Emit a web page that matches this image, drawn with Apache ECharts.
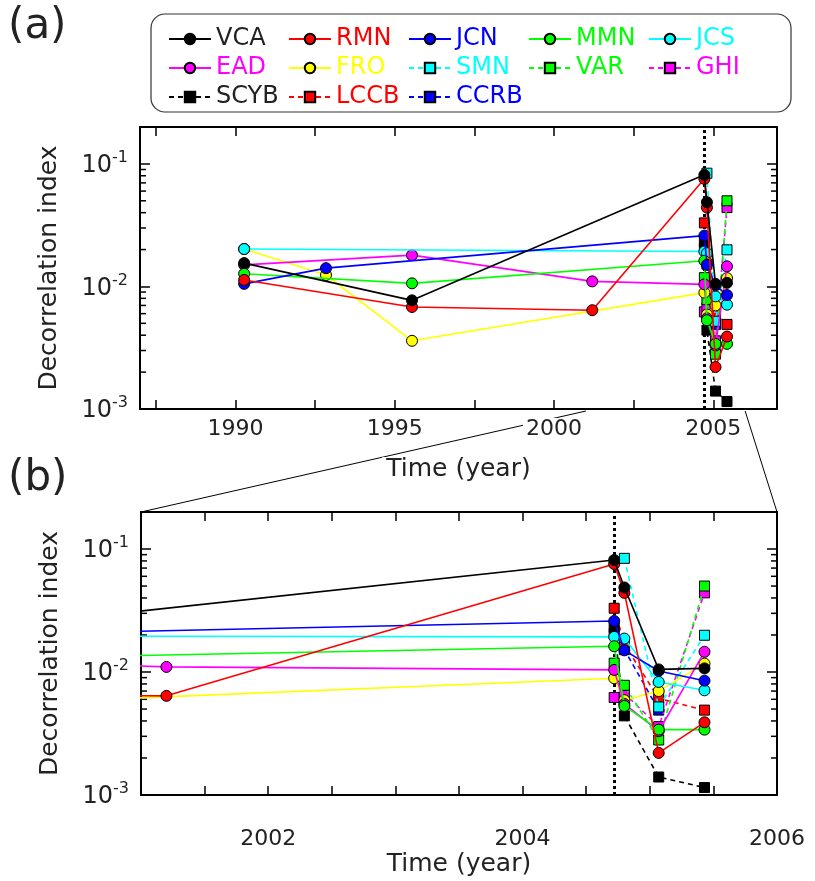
<!DOCTYPE html>
<html>
<head>
<meta charset="utf-8">
<script src="https://cdn.jsdelivr.net/npm/echarts@6/dist/echarts.min.js"></script>
<style>
  html, body { margin: 0; padding: 0; background: #fff; }
  #chart { width: 815px; height: 881px; }
</style>
</head>
<body>
<div id="chart"></div>
<script>
// ---- data: [time (year), decorrelation index] ----
const VCA  = [[1990.27, 0.0155], [1995.54, 0.0077], [2004.72, 0.0814], [2004.80, 0.0487], [2005.07, 0.0105], [2005.43, 0.0107]];
const RMN  = [[1990.27, 0.0113], [1995.54, 0.0068], [2001.20, 0.0064], [2004.72, 0.0755], [2004.80, 0.0440], [2005.07, 0.0022], [2005.43, 0.0039]];
const JCN  = [[1990.27, 0.0105], [1992.84, 0.0141], [2004.72, 0.0260], [2004.80, 0.0150], [2005.07, 0.0102], [2005.43, 0.0085]];
const MMN  = [[1990.27, 0.0127], [1995.54, 0.0106], [2004.72, 0.0162], [2004.80, 0.0053], [2005.07, 0.0034], [2005.43, 0.0034]];
const JCS  = [[1990.27, 0.0202], [2004.72, 0.0193], [2004.80, 0.0187], [2005.07, 0.0083], [2005.43, 0.0071]];
const EAD  = [[1990.27, 0.0150], [1995.54, 0.0180], [2001.20, 0.0110], [2004.72, 0.0104], [2004.80, 0.0055], [2005.07, 0.0033], [2005.43, 0.0146]];
const FRO  = [[1990.27, 0.0202], [1992.84, 0.0124], [1995.54, 0.0036], [2004.72, 0.0089], [2004.80, 0.0059], [2005.07, 0.0070], [2005.43, 0.0117]];
const SMN  = [[2004.80, 0.0840], [2005.07, 0.0052], [2005.43, 0.0199]];
const VAR  = [[2004.72, 0.0118], [2004.80, 0.0078], [2005.07, 0.0028], [2005.43, 0.0500]];
const GHI  = [[2004.72, 0.0062], [2004.80, 0.0067], [2005.07, 0.0036], [2005.43, 0.0440]];
const SCYB = [[2004.72, 0.0230], [2004.80, 0.0044], [2005.07, 0.0014], [2005.43, 0.00115]];
const LCCB = [[2004.72, 0.0330], [2004.80, 0.0168], [2005.07, 0.0061], [2005.43, 0.0049]];
const CCRB = [[2004.72, 0.0205], [2004.80, 0.0152], [2005.07, 0.0049]];

// event marker (vertical dotted line)
const EVENT_YEAR = 2004.72;

// axis ranges and ticks
const Y_MIN = 0.001, Y_MAX = 0.2;
const Y_MAJOR = [0.001, 0.01, 0.1];
const Y_MINOR = [0.002, 0.003, 0.004, 0.005, 0.006, 0.007, 0.008, 0.009,
                 0.02, 0.03, 0.04, 0.05, 0.06, 0.07, 0.08, 0.09, 0.2];
const A_RANGE = [1987, 2007];
const A_TICKS = [1987.5, 1990, 1992.5, 1995, 1997.5, 2000, 2002.5, 2005];
const A_LABELS = [1990, 1995, 2000, 2005];
const B_RANGE = [2001, 2006];
const B_TICKS = [2001.5, 2002, 2002.5, 2003, 2003.5, 2004, 2004.5, 2005, 2005.5];
const B_LABELS = [2002, 2004, 2006];

// series styling
const SERIES = [
  { name: 'VCA',  data: VCA,  color: '#000000', text: '#222222', symbol: 'circle', dashed: false },
  { name: 'RMN',  data: RMN,  color: '#ff0000', text: '#ff0000', symbol: 'circle', dashed: false },
  { name: 'JCN',  data: JCN,  color: '#0000ff', text: '#0000ff', symbol: 'circle', dashed: false },
  { name: 'MMN',  data: MMN,  color: '#00ff00', text: '#00ff00', symbol: 'circle', dashed: false },
  { name: 'JCS',  data: JCS,  color: '#00ffff', text: '#00ffff', symbol: 'circle', dashed: false },
  { name: 'EAD',  data: EAD,  color: '#ff00ff', text: '#ff00ff', symbol: 'circle', dashed: false },
  { name: 'FRO',  data: FRO,  color: '#ffff00', text: '#ffff00', symbol: 'circle', dashed: false },
  { name: 'SMN',  data: SMN,  color: '#00ffff', text: '#00ffff', symbol: 'rect',   dashed: true },
  { name: 'VAR',  data: VAR,  color: '#00ff00', text: '#00ff00', symbol: 'rect',   dashed: true },
  { name: 'GHI',  data: GHI,  color: '#ff00ff', text: '#ff00ff', symbol: 'rect',   dashed: true },
  { name: 'SCYB', data: SCYB, color: '#000000', text: '#222222', symbol: 'rect',   dashed: true },
  { name: 'LCCB', data: LCCB, color: '#ff0000', text: '#ff0000', symbol: 'rect',   dashed: true },
  { name: 'CCRB', data: CCRB, color: '#0000ff', text: '#0000ff', symbol: 'rect',   dashed: true }
];
const LEGEND_COLUMNS = [['VCA', 'EAD', 'SCYB'], ['RMN', 'FRO', 'LCCB'], ['JCN', 'SMN', 'CCRB'], ['MMN', 'VAR'], ['JCS', 'GHI']];

const FONT = 'DejaVu Sans';
const INK = '#222222';

const chart = echarts.init(document.getElementById('chart'), null, { renderer: 'canvas' });

const grids = [
  { left: 140, top: 127, width: 637, height: 282 },
  { left: 141, top: 512, width: 636, height: 283 }
];

function xAxes(gridIndex, range, ticks, labels, labelMargin, nameGap, bg) {
  const tickStyle = { show: true, inside: true, length: 9, lineStyle: { color: '#000', width: 1.5 } };
  const line = { show: true, onZero: false, lineStyle: { color: '#000', width: 2 } };
  return [
    {
      type: 'value', gridIndex, position: 'bottom', min: range[0], max: range[1],
      axisLine: line, splitLine: { show: false },
      axisTick: Object.assign({ customValues: ticks }, tickStyle),
      axisLabel: {
        customValues: labels, margin: labelMargin, color: INK, fontFamily: FONT, fontSize: 22,
        backgroundColor: bg, padding: [0, 3], formatter: v => String(Math.round(v))
      },
      name: 'Time (year)', nameLocation: 'middle', nameGap,
      nameTextStyle: { color: INK, fontFamily: FONT, fontSize: 25, backgroundColor: bg, padding: [0, 4] }
    },
    {
      type: 'value', gridIndex, position: 'top', min: range[0], max: range[1],
      axisLine: line, splitLine: { show: false },
      axisTick: Object.assign({ customValues: ticks }, tickStyle),
      axisLabel: { show: false }
    }
  ];
}

function yAxes(gridIndex) {
  const tickStyle = { show: true, inside: true, length: 10, customValues: Y_MAJOR, lineStyle: { color: '#000', width: 1.5 } };
  const line = { show: true, onZero: false, lineStyle: { color: '#000', width: 2 } };
  return [
    {
      type: 'log', logBase: 10, gridIndex, position: 'left', min: Y_MIN, max: Y_MAX,
      axisLine: line, splitLine: { show: false }, axisTick: tickStyle,
      axisLabel: {
        customValues: Y_MAJOR, margin: 12, color: INK, fontFamily: FONT,
        formatter: v => '{b|10}{s|' + Math.round(Math.log10(v)) + '}',
        rich: {
          b: { fontFamily: FONT, fontSize: 24, color: INK, lineHeight: 28, verticalAlign: 'bottom' },
          s: { fontFamily: FONT, fontSize: 16, color: INK, lineHeight: 28, verticalAlign: 'top' }
        }
      },
      name: 'Decorrelation index', nameLocation: 'middle', nameRotate: 90, nameGap: 78,
      nameTextStyle: { color: INK, fontFamily: FONT, fontSize: 25 }
    },
    {
      type: 'log', logBase: 10, gridIndex, position: 'right', min: Y_MIN, max: Y_MAX,
      axisLine: line, splitLine: { show: false }, axisTick: tickStyle, axisLabel: { show: false }
    }
  ];
}

// minor log ticks drawn on both vertical frame edges
function minorTickSeries(gridIndex, xMin) {
  return {
    type: 'custom', name: 'minor-ticks', xAxisIndex: gridIndex * 2, yAxisIndex: gridIndex * 2,
    silent: true, clip: false, z: 5,
    data: Y_MINOR.map(v => [xMin, v]),
    renderItem: (params, api) => {
      const cs = params.coordSys;
      const y = api.coord([api.value(0), api.value(1)])[1];
      const st = { stroke: '#000', lineWidth: 1.5 };
      return {
        type: 'group',
        children: [
          { type: 'line', shape: { x1: cs.x, y1: y, x2: cs.x + 6, y2: y }, style: st },
          { type: 'line', shape: { x1: cs.x + cs.width - 6, y1: y, x2: cs.x + cs.width, y2: y }, style: st }
        ]
      };
    }
  };
}

function eventLineSeries(gridIndex) {
  return {
    type: 'line', name: 'event', xAxisIndex: gridIndex * 2, yAxisIndex: gridIndex * 2,
    data: [], silent: true, z: 2,
    markLine: {
      silent: true, symbol: 'none', label: { show: false },
      lineStyle: { color: '#000', type: [3, 3], width: 3 },
      emphasis: { disabled: true },
      data: [{ xAxis: EVENT_YEAR }]
    }
  };
}

const series = [];
[0, 1].forEach(g => {
  series.push(eventLineSeries(g));
  series.push(minorTickSeries(g, g === 0 ? A_RANGE[0] : B_RANGE[0]));
  SERIES.forEach((s, i) => {
    series.push({
      type: 'line', name: s.name, data: s.data,
      xAxisIndex: g * 2, yAxisIndex: g * 2,
      symbol: s.symbol, symbolSize: s.symbol === 'rect' ? 10 : 11,
      showAllSymbol: true, clip: true,
      lineStyle: { color: s.color, width: 1.6, type: s.dashed ? [5, 4] : 'solid' },
      itemStyle: { color: s.color, borderColor: '#000', borderWidth: 1 },
      emphasis: { disabled: true },
      z: 40 - i
    });
  });
});

const colorOf = {};
SERIES.forEach(s => { colorOf[s.name] = s.text; });

const option = {
  animation: false,
  backgroundColor: '#fff',
  textStyle: { fontFamily: FONT },
  title: [
    { text: '(a)', left: 8, top: 6, padding: 0, textStyle: { fontFamily: FONT, fontSize: 42, fontWeight: 'normal', color: INK } },
    { text: '(b)', left: 8, top: 458, padding: 0, textStyle: { fontFamily: FONT, fontSize: 42, fontWeight: 'normal', color: INK } }
  ],
  legend: LEGEND_COLUMNS.map((names, i) => ({
    orient: 'vertical', left: 168 + 120 * i, top: 27, padding: 0,
    itemWidth: 42, itemHeight: 13, itemGap: 5, selectedMode: false,
    textStyle: { fontFamily: FONT, fontSize: 24, lineHeight: 24 },
    data: names.map(n => ({ name: n, textStyle: { color: colorOf[n] } }))
  })),
  grid: grids,
  xAxis: [
    ...xAxes(0, A_RANGE, A_TICKS, A_LABELS, 9, 48, '#fff'),
    ...xAxes(1, B_RANGE, B_TICKS, B_LABELS, 33, 57, 'transparent')
  ],
  yAxis: [...yAxes(0), ...yAxes(1)],
  series
};

chart.setOption(option);

// legend frame and zoom connectors between the two panels
const aLeft  = chart.convertToPixel({ xAxisIndex: 0, yAxisIndex: 0 }, [B_RANGE[0], Y_MIN]);
const aRight = chart.convertToPixel({ xAxisIndex: 0, yAxisIndex: 0 }, [B_RANGE[1], Y_MIN]);
const bLeft  = chart.convertToPixel({ xAxisIndex: 2, yAxisIndex: 2 }, [B_RANGE[0], Y_MAX]);
const bRight = chart.convertToPixel({ xAxisIndex: 2, yAxisIndex: 2 }, [B_RANGE[1], Y_MAX]);

chart.setOption({
  graphic: [
    { type: 'rect', shape: { x: 151, y: 14, width: 640, height: 98, r: 14 },
      style: { fill: 'none', stroke: '#333', lineWidth: 1.2 }, z: 0, silent: true },
    { type: 'line', shape: { x1: aLeft[0], y1: aLeft[1] + 2, x2: bLeft[0], y2: bLeft[1] },
      style: { stroke: '#000', lineWidth: 1 }, z: -10, silent: true },
    { type: 'line', shape: { x1: aRight[0], y1: aRight[1] + 2, x2: bRight[0], y2: bRight[1] },
      style: { stroke: '#000', lineWidth: 1 }, z: -10, silent: true }
  ]
});
</script>
</body>
</html>
